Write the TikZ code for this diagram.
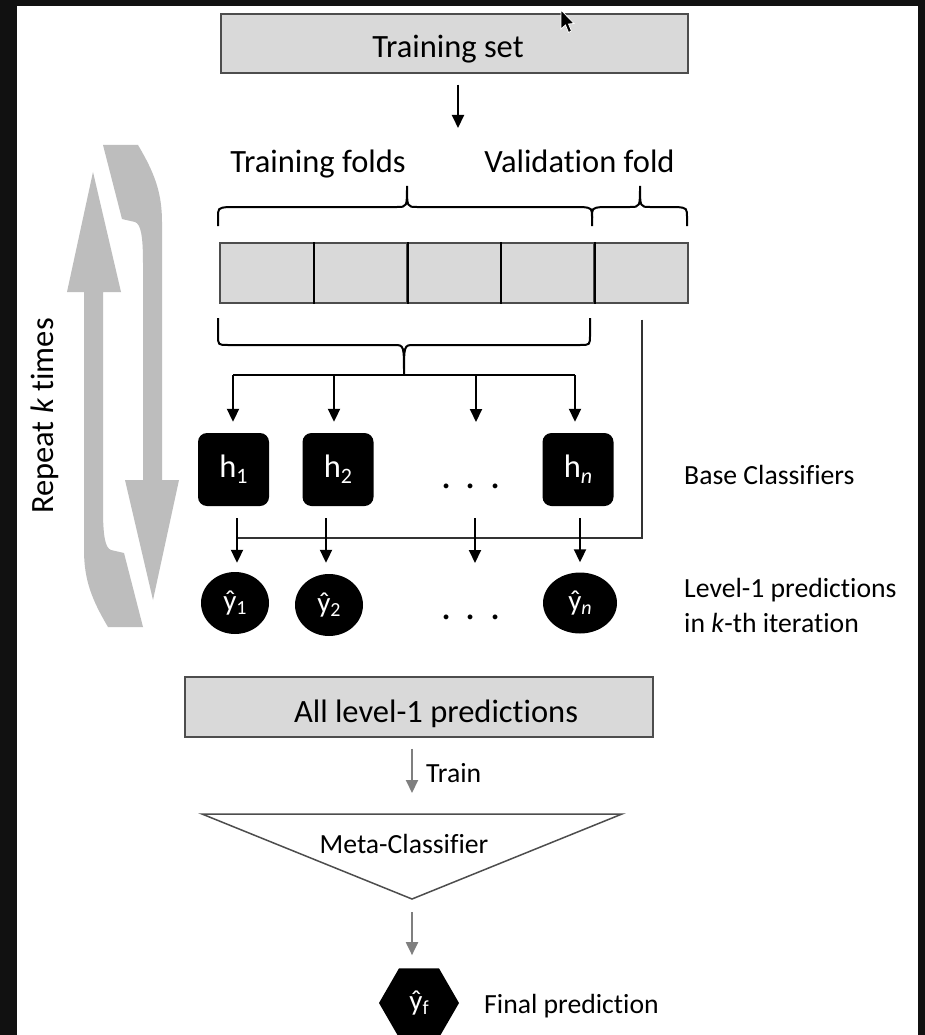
\documentclass[tikz,border=0pt]{standalone}
\usepackage{fontspec}
\setmainfont{Carlito}[Ligatures=NoCommon]
\usetikzlibrary{arrows.meta,shapes.geometric}
\definecolor{bgdark}{HTML}{111111}
\definecolor{boxfill}{HTML}{D9D9D9}
\definecolor{boxline}{HTML}{4D4D4D}
\definecolor{loopgray}{HTML}{BDBDBD}
\definecolor{arrowgray}{HTML}{7F7F7F}
\definecolor{vline}{HTML}{333333}
\newcommand{\bigfont}{\fontsize{32.5}{39}\selectfont}
\newcommand{\midfont}{\fontsize{27.7}{33}\selectfont}
\newcommand{\subfont}{\fontsize{22}{22}\selectfont}
\newcommand{\yfont}{\fontsize{29}{29}\selectfont}
\newcommand{\ysubfont}{\fontsize{20}{20}\selectfont}
\newcommand{\dotfont}{\fontsize{40}{40}\selectfont}
\begin{document}
\begin{tikzpicture}[x=1pt,y=-1pt,
  graybox/.style={draw=boxline, line width=1.5pt, fill=boxfill, inner sep=0pt},
  txt/.style={inner sep=0pt, font=\bigfont},
  stxt/.style={inner sep=0pt, font=\midfont},
  bline/.style={line width=2pt, black},
  conn/.style={line width=2pt, black, -{Triangle[width=12pt,length=13pt]}},
  garrow/.style={line width=2pt, arrowgray, -{Triangle[width=12pt,length=13pt]}},
  hbox/.style={fill=black, rounded corners=9pt, minimum width=71pt, minimum height=73pt, inner sep=0pt, text=white, font=\bigfont},
  ybox/.style={ellipse, fill=black, inner sep=0pt, text=white, font=\yfont},
  loopshape/.style={fill=loopgray}
]
\useasboundingbox (0,0) rectangle (925,1035);
\fill[bgdark] (0,0) rectangle (925,1035);
\fill[white] (17,6) rectangle (918,1035);

% loop arrows
\fill[loopshape] (93,172) -- (121,292) -- (103,292) -- (103,509)
  .. controls (103,535) and (105,548) .. (111,550) -- (124,553) -- (143,627) -- (108,627)
  .. controls (92,600) and (84,580) .. (84,550) -- (84,292) -- (67,292) -- cycle;
\fill[loopshape, rotate around={180:(123,386)}] (93,172) -- (121,292) -- (103,292) -- (103,509)
  .. controls (103,535) and (105,548) .. (111,550) -- (124,553) -- (143,627) -- (108,627)
  .. controls (92,600) and (84,580) .. (84,550) -- (84,292) -- (67,292) -- cycle;
\node[txt, rotate=90, anchor=base] (rep) at (53,416) {Repeat \textit{k} times};

% training set
\node[graybox, minimum width=467pt, minimum height=59pt] (tset) at (454.5,43.5) {};
\node[txt, anchor=base] (tsettxt) at (448,58) {Training set};
\coordinate (tend) at (458,128);
\draw[conn, shorten <=11pt] (tset.south -| tend) -- (tend);

% cursor
\fill[black, draw=white, line width=0.8pt] (561,10) -- (561,29) -- (565.5,25) -- (568.5,32.5) -- (571.5,31) -- (568.5,24) -- (574,23.5) -- cycle;

% labels above folds
\node[txt, anchor=base] (tfl) at (318,173) {Training folds};
\node[txt, anchor=base] (vfl) at (579.5,173) {Validation fold};

% top braces
\coordinate (tb1) at (407,186);
\coordinate (tb2) at (640,186);
\draw[bline] (218,226) -- (218,218) .. controls (218,208) .. (228,207) -- (397,207)
  .. controls (407,207) .. (tb1) .. controls (407,207) .. (417,207) -- (582,207)
  .. controls (592,208) .. (592,218) -- (592,226);
\draw[bline] (592,218) .. controls (592,208) .. (602,207) -- (630,207)
  .. controls (640,207) .. (tb2) .. controls (640,207) .. (650,207) -- (677,207)
  .. controls (687,208) .. (687,218) -- (687,226);

% folds
\foreach \i in {0,...,4}{
  \node[graybox, minimum width=93.6pt, minimum height=60pt, anchor=north west] (f\i) at ({219+93.6*\i},242) {};
}
\foreach \i in {0,...,3}{
  \draw[bline] (f\i.north east) -- (f\i.south east);
}

% bottom brace
\coordinate (bb) at (404,375);
\draw[bline] (218,318) -- (218,335) .. controls (218,345) .. (228,345) -- (394,345)
  .. controls (404,345) .. (bb) .. controls (404,345) .. (414,345) -- (580,345)
  .. controls (590,345) .. (590,335) -- (590,318);

% base classifiers
\node[hbox] (h1) at (233.5,469.5) {h\raisebox{-6pt}{\subfont 1}};
\node[hbox] (h2) at (338,469.5) {h\raisebox{-6pt}{\subfont 2}};
\node[hbox] (hn) at (578,469.5) {h\raisebox{-6pt}{\subfont\itshape n}};
\node[inner sep=0pt, font=\dotfont, anchor=base] (dots1) at (471,488) {.\hspace{14pt}.\hspace{14pt}.};

% distribution
\coordinate (d1) at (233,375);
\coordinate (d2) at (334,375);
\coordinate (d3) at (476,375);
\coordinate (d4) at (575,375);
\coordinate (d3end) at (476,422);
\draw[bline] (d1) -- (d4);
\draw[conn, shorten >=11pt] (d1) -- (d1 |- h1.north);
\draw[conn, shorten >=11pt] (d2) -- (d2 |- h2.north);
\draw[conn] (d3) -- (d3end);
\draw[conn, shorten >=11pt] (d4) -- (d4 |- hn.north);

% level-1 predictions
\node[ybox, minimum width=68pt, minimum height=62pt] (y1) at (235,603) {ŷ\raisebox{-4pt}{\ysubfont 1}};
\node[ybox, minimum width=68pt, minimum height=62pt] (y2) at (329,605) {ŷ\raisebox{-4pt}{\ysubfont 2}};
\node[ybox, minimum width=74pt, minimum height=61pt] (yn) at (580,603) {ŷ\raisebox{-4pt}{\ysubfont\itshape n}};
\node[inner sep=0pt, font=\dotfont, anchor=base] (dots2) at (471,619) {.\hspace{14pt}.\hspace{14pt}.};

% validation line
\coordinate (vcorner) at (642,538);
\coordinate (vend) at (237,538);
\draw[line width=1.8pt, vline, shorten <=16pt] (f4.south -| vcorner) -- (vcorner) -- (vend);

% arrows to predictions
\coordinate (a1) at (237,518);
\coordinate (a2) at (326,518);
\coordinate (a3) at (475,518);
\coordinate (a3end) at (475,563);
\coordinate (a4) at (580,518);
\draw[conn, shorten >=9pt] (a1) -- (a1 |- y1.north);
\draw[conn, shorten >=11pt] (a2) -- (a2 |- y2.north);
\draw[conn] (a3) -- (a3end);
\draw[conn, shorten >=10pt] (a4) -- (a4 |- yn.north);

% right labels
\node[stxt, anchor=base west] (bc) at (684,484) {Base Classifiers};
\node[stxt, anchor=base west] (l1a) at (684,597) {Level-1 predictions};
\node[stxt, anchor=base west] (l1b) at (684,632) {in \textit{k}-th iteration};

% all level-1 predictions
\node[graybox, minimum width=468pt, minimum height=60pt] (all) at (419,707) {};
\node[txt, anchor=base] (alltxt) at (436,722) {All level-1 predictions};

% train arrow
\coordinate (trend) at (412,793);
\draw[garrow, shorten <=11pt] (all.south -| trend) -- (trend);
\node[stxt, anchor=base west] (train) at (426,782) {Train};

% meta classifier
\coordinate (mtl) at (202,814);
\coordinate (mtr) at (622,814);
\coordinate (mtb) at (412,899);
\draw[line width=1.5pt, boxline, fill=white] (mtl) -- (mtr) -- (mtb) -- cycle;
\node[stxt, anchor=base] (meta) at (404,853) {Meta-Classifier};

% final prediction
\node[regular polygon, regular polygon sides=6, minimum size=80pt, fill=black, inner sep=0pt, text=white, font=\yfont] (yf) at (419,1003) {ŷ\raisebox{-4pt}{\ysubfont f}};
\draw[garrow, shorten <=13pt, shorten >=13pt] (mtb) -- (mtb |- yf.north);
\node[stxt, anchor=base west] (fp) at (484,1013) {Final prediction};
\end{tikzpicture}
\end{document}
